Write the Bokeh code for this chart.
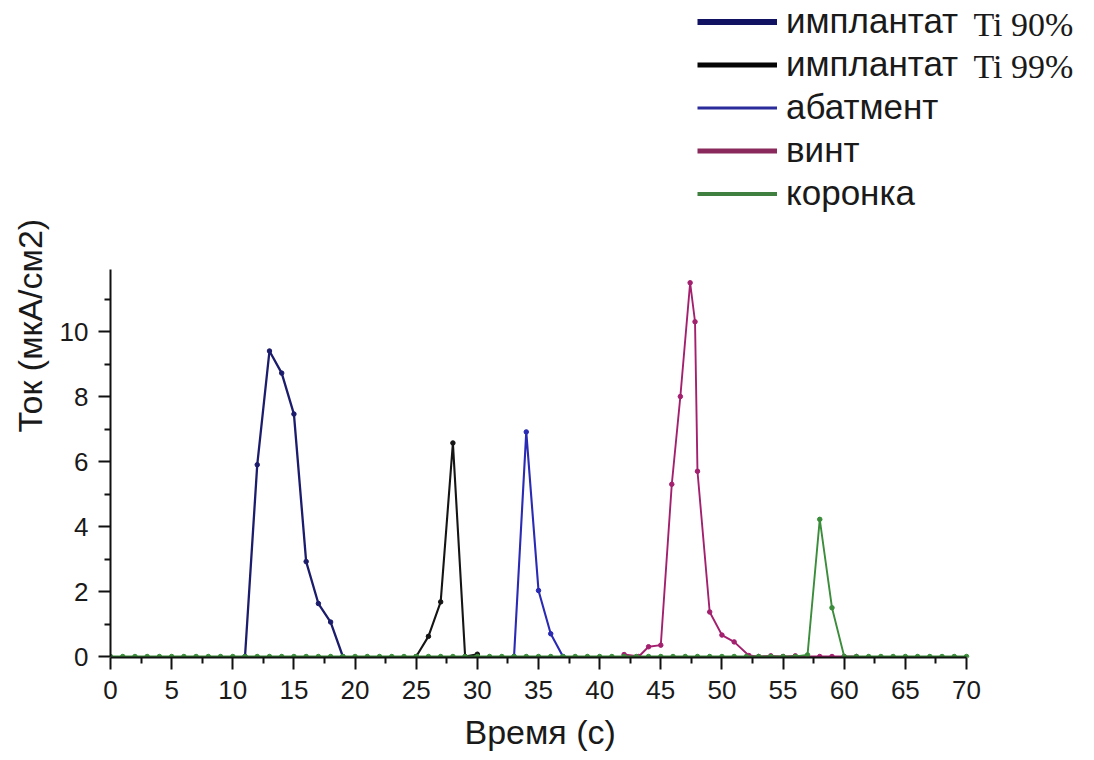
import math
from bokeh.plotting import figure
from bokeh.models import Range1d, FixedTicker, Legend, LegendItem, Label, Title, ColumnDataSource
from bokeh.embed import file_html
from bokeh.resources import INLINE

# ---------------- data ----------------
series_names = ["имплантат", "имплантат", "абатмент", "винт", "коронка"]
ti_notes = ["Ti 90%", "Ti 99%"]
x_title = "Время (с)"
y_title = "Ток (мкА/см2)"

ti90_x = [11, 12, 13, 14, 15, 16, 17, 18, 19]
ti90_y = [0.0, 5.9, 9.4, 8.72, 7.46, 2.92, 1.63, 1.06, 0.0]

ti99_x = [25, 26, 27, 28, 29, 30]
ti99_y = [0.0, 0.62, 1.68, 6.57, 0.0, 0.07]

abut_x = [33, 34, 35, 36, 37]
abut_y = [0.0, 6.91, 2.03, 0.70, 0.0]

screw_x = [42, 43.2, 44, 45, 45.9, 46.6, 47.4, 47.8, 48, 49, 50, 51, 52.2,
           53, 54, 55, 56, 57, 58, 59, 60, 61]
screw_y = [0.06, 0.0, 0.30, 0.35, 5.3, 8.0, 11.5, 10.3, 5.7, 1.37, 0.66, 0.45, 0.03,
           0.0, 0.02, 0.0, 0.02, 0.0, 0.0, 0.0, 0.0, 0.0]

crown_x = [0, 1, 2, 3, 4, 5, 6, 7, 8, 9,
           10, 11, 12, 13, 14, 15, 16, 17, 18, 19,
           20, 21, 22, 23, 24, 25, 26, 27, 28, 29,
           30, 31, 32, 33, 34, 35, 36, 37, 38, 39,
           40, 41, 42, 43, 44, 45, 46, 47, 48, 49,
           50, 51, 52, 53, 54, 55, 56, 57, 58, 59,
           60, 61, 62, 63, 64, 65, 66, 67, 68, 69, 70]
crown_y = [0, 0, 0, 0, 0, 0, 0, 0, 0, 0,
           0, 0, 0, 0, 0, 0, 0, 0, 0, 0,
           0, 0, 0, 0, 0, 0, 0, 0, 0, 0,
           0, 0, 0, 0, 0, 0, 0, 0, 0, 0,
           0, 0, 0, 0, 0, 0, 0, 0, 0, 0,
           0, 0, 0, 0, 0, 0, 0, 0.05, 4.22, 1.5,
           0, 0, 0, 0, 0, 0, 0, 0, 0, 0, 0]

x_major = [0, 5, 10, 15, 20, 25, 30, 35, 40, 45, 50, 55, 60, 65, 70]
x_minor = [2.5, 7.5, 12.5, 17.5, 22.5, 27.5, 32.5, 37.5, 42.5, 47.5, 52.5, 57.5, 62.5, 67.5]
y_major = [0, 2, 4, 6, 8, 10]
y_minor = [1, 3, 5, 7, 9, 11]

# ---------------- layout ----------------
W, H = 1090, 760
left, right, top, bottom = 110, 2, 0, 103
frame_w = W - left - right
frame_h = H - top - bottom
px_x = 856 / 70.0          # pixels per second
px_y = 32.5                # pixels per unit of current
y0 = -1 / px_y
fb = H - bottom            # frame bottom, page pixels

p = figure(width=W, height=H, output_backend="svg", toolbar_location=None,
           x_range=Range1d(0, frame_w / px_x), y_range=Range1d(y0, y0 + frame_h / px_y),
           min_border_left=left, min_border_right=right,
           min_border_top=top, min_border_bottom=bottom)
p.outline_line_color = None
p.background_fill_color = "white"
p.border_fill_color = "white"
p.xgrid.visible = False
p.ygrid.visible = False

for ax in (p.xaxis[0], p.yaxis[0]):
    ax.axis_line_width = 2
    ax.axis_line_color = "#111111"
    ax.major_tick_line_color = "#111111"
    ax.minor_tick_line_color = "#111111"
    ax.major_tick_line_width = 2
    ax.minor_tick_line_width = 2
    ax.major_tick_in = 0
    ax.major_tick_out = 12
    ax.minor_tick_in = 0
    ax.minor_tick_out = 6
    ax.major_label_text_font = "Liberation Sans"
    ax.major_label_text_font_size = "26px"
    ax.major_label_text_color = "#1a1a1a"

p.xaxis[0].ticker = FixedTicker(ticks=x_major, minor_ticks=x_minor)
p.yaxis[0].ticker = FixedTicker(ticks=y_major, minor_ticks=y_minor)
p.xaxis[0].bounds = (0, 70)
p.yaxis[0].bounds = (0, 11.9)
p.xaxis[0].major_label_standoff = 11
p.yaxis[0].major_label_standoff = 10

# ---------------- series ----------------
styles = [
    (ti90_x, ti90_y, "#1c1c6c", 2.3, "#121262", 6),
    (ti99_x, ti99_y, "#151515", 2.1, "#050505", 5),
    (abut_x, abut_y, "#2a2ab4", 2.1, "#2b2b9c", 3),
    (screw_x, screw_y, "#a3206f", 1.9, "#8a2a5c", 5),
    (crown_x, crown_y, "#3b8c3b", 1.9, "#3f7f3f", 4),
]
items = []
for (xs, ys, col, lw, lcol, llw), name in zip(styles, series_names):
    src = ColumnDataSource(dict(x=xs, y=ys))
    p.line("x", "y", source=src, line_color=col, line_width=lw)
    p.scatter("x", "y", source=src, size=4.5, color=col)
    r_leg = p.line("x", "y", source=src, line_color=lcol, line_width=llw, visible=False)
    items.append(LegendItem(label=name, renderers=[r_leg]))

# ---------------- legend ----------------
legend = Legend(items=items, location=(587, 444),
                label_text_font="Liberation Sans", label_text_font_size="35px",
                label_text_color="#1a1a1a",
                glyph_width=80, glyph_height=37, label_height=37, spacing=3,
                label_standoff=9, padding=0, margin=0,
                border_line_color=None, background_fill_alpha=0,
                inactive_fill_alpha=0)
p.add_layout(legend, "center")

for i, note in enumerate(ti_notes):
    p.add_layout(Label(x=863, y=fb - 24 - 41.5 * i, x_units="screen", y_units="screen",
                       text=note, text_font="Liberation Serif", text_font_size="34px",
                       text_color="#1a1a1a", text_baseline="middle", text_align="left"))

# ---------------- axis titles ----------------
p.add_layout(Title(text=x_title, align="left", offset=538 - left - 74,
                   text_font="Liberation Sans", text_font_size="34px",
                   text_font_style="normal", text_color="#1a1a1a", standoff=18), "below")
p.add_layout(Title(text=y_title, align="left", offset=fb - 432,
                   text_font="Liberation Sans", text_font_size="34px",
                   text_font_style="normal", text_color="#1a1a1a", standoff=16), "left")

open("out.html", "w").write(file_html(p, INLINE))
